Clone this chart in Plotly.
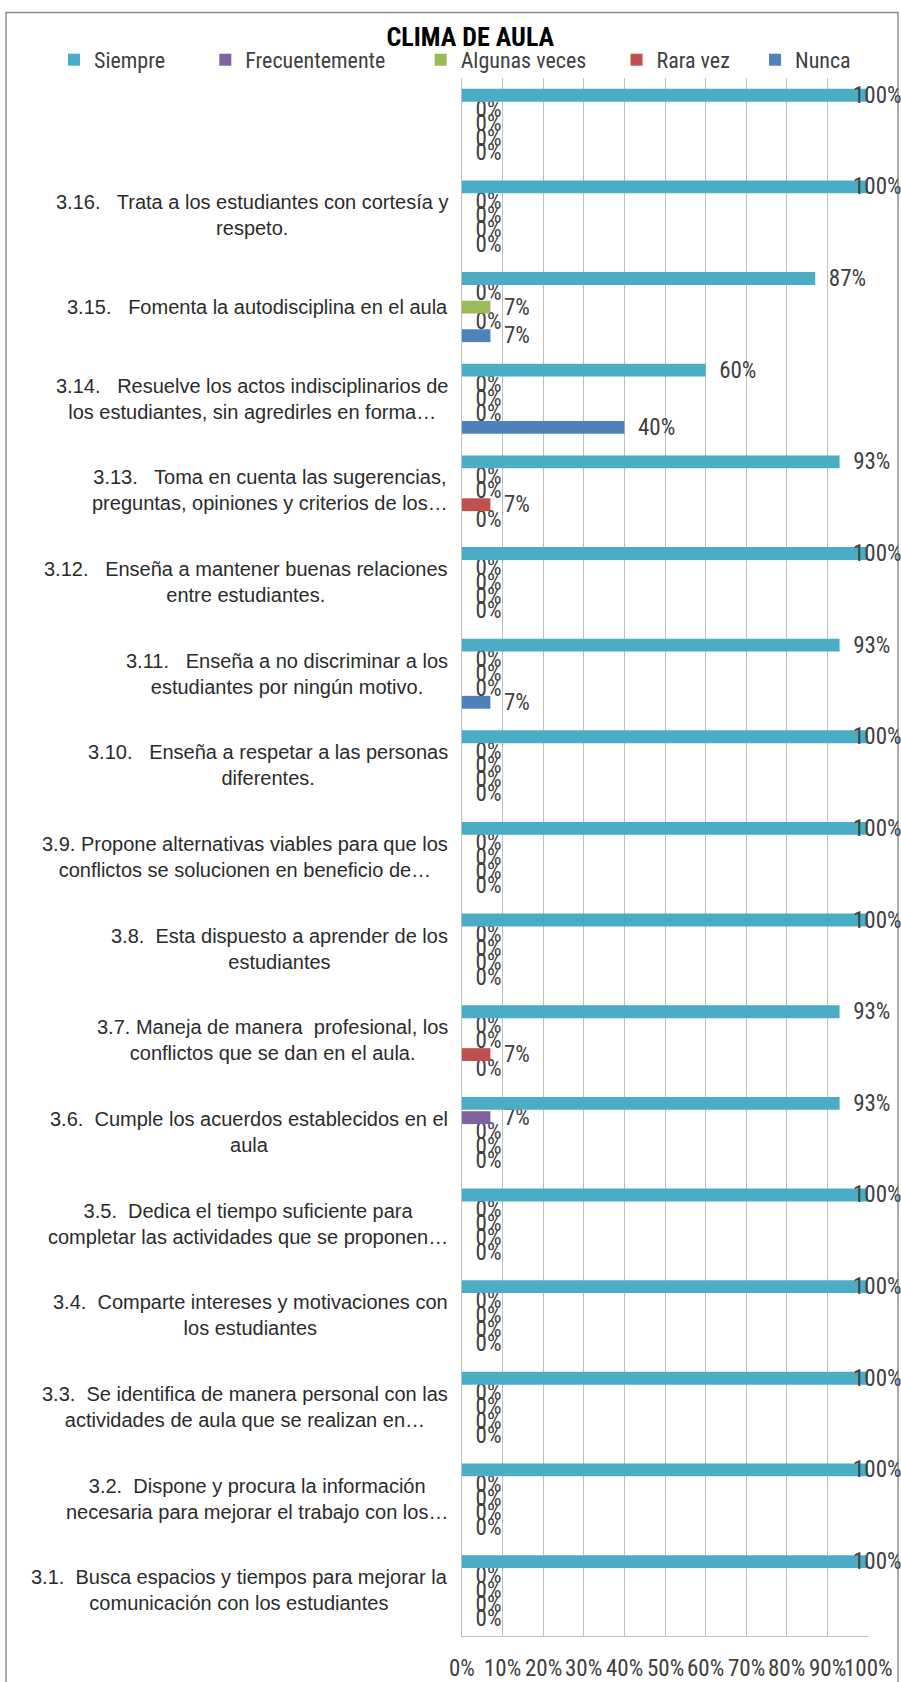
import plotly.graph_objects as go

# category labels from bottom to top (the top one has no label in the original)
labels = [
    "3.1.\u00a0 Busca espacios y tiempos para mejorar la<br>comunicación con los estudiantes",
    "3.2.\u00a0 Dispone y procura la información<br>necesaria para mejorar el trabajo con los…",
    "3.3.\u00a0 Se identifica de manera personal con las<br>actividades de aula que se realizan en…",
    "3.4.\u00a0 Comparte intereses y motivaciones con<br>los estudiantes",
    "3.5.\u00a0 Dedica el tiempo suficiente para<br>completar las actividades que se proponen…",
    "3.6.\u00a0 Cumple los acuerdos establecidos en el<br>aula",
    "3.7. Maneja de manera\u00a0 profesional, los<br>conflictos que se dan en el aula.",
    "3.8.\u00a0 Esta dispuesto a aprender de los<br>estudiantes",
    "3.9. Propone alternativas viables para que los<br>conflictos se solucionen en beneficio de…",
    "3.10.\u00a0\u00a0 Enseña a respetar a las personas<br>diferentes.",
    "3.11.\u00a0\u00a0 Enseña a no discriminar a los<br>estudiantes por ningún motivo.",
    "3.12.\u00a0\u00a0 Enseña a mantener buenas relaciones<br>entre estudiantes.",
    "3.13.\u00a0\u00a0 Toma en cuenta las sugerencias,<br>preguntas, opiniones y criterios de los…",
    "3.14.\u00a0\u00a0 Resuelve los actos indisciplinarios de<br>los estudiantes, sin agredirles en forma…",
    "3.15.\u00a0\u00a0 Fomenta la autodisciplina en el aula",
    "3.16.\u00a0\u00a0 Trata a los estudiantes con cortesía y<br>respeto.",
    " ",
]

# shares per answer, same order as labels (bottom to top)
siempre        = [1.00, 1.00, 1.00, 1.00, 1.00, 0.93, 0.93, 1.00, 1.00, 1.00, 0.93, 1.00, 0.93, 0.60, 0.87, 1.00, 1.00]
frecuentemente = [0, 0, 0, 0, 0, 0.07, 0, 0, 0, 0, 0, 0, 0, 0, 0, 0, 0]
algunas_veces  = [0, 0, 0, 0, 0, 0, 0, 0, 0, 0, 0, 0, 0, 0, 0.07, 0, 0]
rara_vez       = [0, 0, 0, 0, 0, 0, 0.07, 0, 0, 0, 0, 0, 0.07, 0, 0, 0, 0]
nunca          = [0, 0, 0, 0, 0, 0, 0, 0, 0, 0, 0.07, 0, 0, 0.40, 0.07, 0, 0]

x_ticks = [0, 0.1, 0.2, 0.3, 0.4, 0.5, 0.6, 0.7, 0.8, 0.9, 1.0]

series = [
    ("Siempre", siempre, "#4BACC6"),
    ("Frecuentemente", frecuentemente, "#8064A2"),
    ("Algunas veces", algunas_veces, "#9BBB59"),
    ("Rara vez", rara_vez, "#C0504D"),
    ("Nunca", nunca, "#4F81BD"),
]
legend_pad = [7, 6, 5, 4, 0]  # nbsp after each name, spaces the legend like Excel

NARROW = "Roboto Condensed, Liberation Sans Narrow, Arial Narrow, sans-serif"
WIDE = "Liberation Sans, Arial, sans-serif"
TXT = "#404040"

BARGAP = 0.22
n_series = len(series)

fig = go.Figure()
# plotly puts the first horizontal trace at the bottom of a group, so add them reversed
for rank, (name, vals, col) in reversed(list(enumerate(series))):
    txt = ["" if v >= 1 else "\u00a0\u00a0" + f"{v:.0%}" for v in vals]
    fig.add_trace(go.Bar(
        y=labels, x=vals, name=name + "\u00a0" * legend_pad[rank],
        orientation="h",
        marker=dict(color=col, line=dict(width=0)),
        text=txt, textposition="outside", cliponaxis=False, constraintext="none",
        textfont=dict(family=NARROW, size=23, color=TXT),
        hovertemplate=name + ": %{x:.0%}<extra></extra>",
        legendrank=rank + 1,
    ))

# full bars run into the frame edge: Excel pulls their label back over the bar end
slot = (1682 - 78 - 46) / len(labels) * (1 - BARGAP) / n_series
for rank, (name, vals, col) in enumerate(series):
    for lab, v in zip(labels, vals):
        if v >= 1:
            fig.add_annotation(x=v, y=lab, xref="x", yref="y", text=f"{v:.0%}",
                               showarrow=False, xanchor="left", xshift=-17,
                               yshift=((n_series - 1) / 2 - rank) * slot,
                               font=dict(family=NARROW, size=23, color=TXT))

for lab in labels:
    if lab.strip():
        fig.add_annotation(x=0, xref="paper", xanchor="right", xshift=-12,
                           y=lab, yref="y", text=lab, showarrow=False, align="center",
                           font=dict(family=WIDE, size=20, color="#2b2b2b"))

# x tick labels sit lower than plotly puts them
for t in x_ticks:
    fig.add_annotation(x=t, xref="x", y=0, yref="paper", yanchor="top", yshift=-17,
                       text=f"{t:.0%}", showarrow=False,
                       font=dict(family=NARROW, size=23, color=TXT))

# chart frame
fig.add_shape(type="rect", xref="paper", yref="paper",
              x0=-1.123, x1=1.074, y0=-0.06, y1=1.042,
              line=dict(color="#8c8c8c", width=1.5), layer="below")

fig.update_layout(
    width=901, height=1682,
    margin=dict(l=462, r=33, t=78, b=46),
    paper_bgcolor="white", plot_bgcolor="white",
    barmode="group", bargap=BARGAP, bargroupgap=0.1,
    title=dict(text="<b>CLIMA DE AULA</b>", x=0.522, xref="container", xanchor="center",
               y=0.978, yanchor="middle", font=dict(family=NARROW, size=26, color="#000000")),
    legend=dict(orientation="h", x=-1.005, xanchor="left",
                y=1.0116, yanchor="middle",
                font=dict(family=NARROW, size=22, color=TXT), itemwidth=30,
                bgcolor="rgba(0,0,0,0)"),
    showlegend=True,
    xaxis=dict(range=[0, 1], tickvals=x_ticks, showticklabels=False, showgrid=True,
               gridcolor="#bfbfbf", gridwidth=1, zeroline=False,
               showline=True, linecolor="#bfbfbf", ticks="", automargin=False),
    yaxis=dict(type="category", categoryorder="array", categoryarray=labels,
               showticklabels=False, showgrid=False, zeroline=False,
               showline=True, linecolor="#bfbfbf", ticks="", automargin=False),
)

fig.write_html("out.html", config={"displayModeBar": False},
               post_script="document.body.style.margin='0';")
